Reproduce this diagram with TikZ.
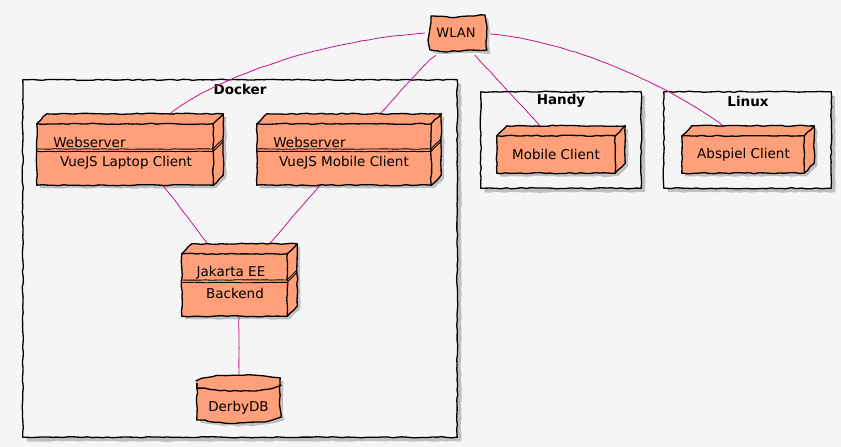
\documentclass[tikz,border=0pt]{standalone}
\usepackage{fontspec}
\setmainfont{DejaVu Sans}
\usetikzlibrary{decorations.pathmorphing}
\definecolor{bg}{HTML}{F5F5F5}
\definecolor{salmon}{HTML}{FFA07A}
\definecolor{conn}{HTML}{C71585}
\newcommand\cubepath[3]{([shift={(#2,#3)}]#1.south west) -- ([shift={(#2,#3)}]#1.north west) -- ([shift={(#2+10,#3-10)}]#1.north west) -- ([shift={(#2+10,#3-10)}]#1.north east) -- ([shift={(#2+10,#3-10)}]#1.south east) -- ([shift={(#2,#3)}]#1.south east) -- cycle}
\newcommand\cubedraw[1]{%
  \fill[shadowst] \cubepath{#1}{3}{3};
  \draw[wob, fill=salmon] \cubepath{#1}{0}{0};
  \draw[wob] (#1.north west) -- (#1.north east) -- ([shift={(10,-10)}]#1.north east);
  \draw[wob] (#1.north east) -- (#1.south east);
}
\begin{document}
\begin{tikzpicture}[x=1pt,y=-1pt,
  wob/.style={line width=1.3pt, line join=round, decorate, decoration={random steps, segment length=5pt, amplitude=0.6pt}},
  dline/.style={line width=0.9pt, decorate, decoration={random steps, segment length=6pt, amplitude=0.3pt}},
  shadowst/.style={black, opacity=0.22, decorate, decoration={random steps, segment length=5pt, amplitude=0.6pt}},
  face/.style={inner sep=0pt, draw=none},
  txt/.style={inner sep=0pt, font=\fontsize{13.5}{16}\selectfont},
  lbl/.style={inner sep=0pt, font=\fontsize{13.5}{16}\selectfont\bfseries},
  conn/.style={draw=conn, line width=0.8pt, decorate, decoration={random steps, segment length=8pt, amplitude=0.3pt}}]
\pgfmathsetseed{7}
\useasboundingbox[fill=bg] (0,0) rectangle (841,447);

% frames
\node[face, minimum width=434pt, minimum height=357pt] (docker) at (240,258.5) {};
\node[face, minimum width=160pt, minimum height=96pt] (handy) at (561,140) {};
\node[face, minimum width=167pt, minimum height=96pt] (linux) at (747.5,140) {};
\foreach \f in {docker,handy,linux}{
  \fill[shadowst] ([shift={(4,4)}]\f.south west) -- ([shift={(4,4)}]\f.north west) -- ([shift={(4,4)}]\f.north east) -- ([shift={(4,4)}]\f.south east) -- cycle;
  \draw[wob, fill=bg] (\f.south west) -- (\f.north west) -- (\f.north east) -- (\f.south east) -- cycle;
}
\node[lbl] (dockerl) at (240,89) {Docker};
\node[lbl] (handyl) at (561,101) {Handy};
\node[lbl] (linuxl) at (748,101) {Linux};

% node anchors
\node[face, minimum width=176pt, minimum height=61pt] (ws1) at (125,154.5) {};
\node[face, minimum width=174pt, minimum height=61pt] (ws2) at (344,154.5) {};
\node[face, minimum width=105pt, minimum height=62pt] (jee) at (234.5,285) {};
\node[face, minimum width=118pt, minimum height=37pt] (mob) at (556,154.5) {};
\node[face, minimum width=122pt, minimum height=37pt] (absp) at (743,154.5) {};
\node[face, minimum width=83pt, minimum height=48pt] (derby) at (238.5,399) {};
\node[face, minimum width=58pt, minimum height=36pt] (wlan) at (458,33) {};

% connectors
\draw[conn] ([shift={(-4,0)}]wlan.west) .. controls (330,40) and (225,72) .. ([shift={(45,-10)}]ws1.north);
\draw[conn] ([shift={(-22,4)}]wlan.south) .. controls (420,68) and (395,98) .. ([shift={(36,-10)}]ws2.north);
\draw[conn] ([shift={(17,4)}]wlan.south) -- ([shift={(-16,-10)}]mob.north);
\draw[conn] ([shift={(3,1)}]wlan.east) .. controls (570,42) and (660,80) .. ([shift={(-20,-10)}]absp.north);
\draw[conn] ([xshift=38pt]ws1.south) -- ([shift={(-26,-9)}]jee.north);
\draw[conn] ([xshift=-24pt]ws2.south) -- ([shift={(34,-9)}]jee.north);
\draw[conn] ([xshift=4.5pt]jee.south) -- ([shift={(0.5,0)}]derby.north);

% cubes
\cubedraw{ws1}
\cubedraw{ws2}
\cubedraw{jee}
\cubedraw{mob}
\cubedraw{absp}

% double lines
\draw[dline] (37,149) -- (213,149) -- (223,139);
\draw[dline] (37,151.5) -- (213,151.5) -- (223,141.5);
\draw[dline] (257,149) -- (431,149) -- (441,139);
\draw[dline] (257,151.5) -- (431,151.5) -- (441,141.5);
\draw[dline] (182,280) -- (287,280) -- (297,270);
\draw[dline] (182,282.5) -- (287,282.5) -- (297,272.5);

% cylinder
\fill[shadowst] (200,386) -- (200,418) .. controls (200,428.7) and (283,428.7) .. (283,418) -- (283,386) .. controls (283,375.3) and (200,375.3) .. (200,386) -- cycle;
\draw[wob, fill=salmon] (197,383) -- (197,415) .. controls (197,425.7) and (280,425.7) .. (280,415) -- (280,383) .. controls (280,372.3) and (197,372.3) .. (197,383) -- cycle;
\draw[wob] (197,383) .. controls (197,393.7) and (280,393.7) .. (280,383);

% WLAN
\fill[shadowst] (434,19) -- (472,20) -- (488,18) -- (490,30) -- (489,44) -- (490,54) -- (470,53) -- (448,54) -- (433,53) -- (431,42) -- (433,30) -- cycle;
\draw[wob, fill=salmon] (431,16) -- (450,17.5) -- (470,16) -- (485,15) -- (487,27) -- (486,41) -- (487,50) -- (468,50) -- (447,52) -- (430,50) -- (428,40) -- (430,28) -- cycle;

% texts
\node[txt] (ws1t) at (89.5,142) {Webserver};
\node[txt] (ws1b) at (126,162.5) {VueJS Laptop Client};
\node[txt] (ws2t) at (309.5,142) {Webserver};
\node[txt] (ws2b) at (344,162.5) {VueJS Mobile Client};
\node[txt] (jeet) at (231,273) {Jakarta EE};
\node[txt] (jeeb) at (235,293) {Backend};
\node[txt] (mobt) at (556,154.5) {Mobile Client};
\node[txt] (abspt) at (743.5,154.5) {Abspiel Client};
\node[txt] (derbyt) at (238.5,408) {DerbyDB};
\node[txt, font=\fontsize{13}{15}\selectfont] (wlant) at (456,33) {WLAN};
\end{tikzpicture}
\end{document}
